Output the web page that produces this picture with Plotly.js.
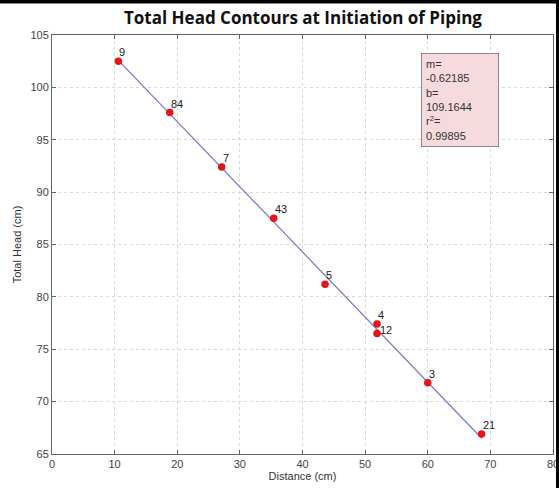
<!DOCTYPE html>
<html><head><meta charset="utf-8">
<script src="https://cdn.plot.ly/plotly-3.0.1.min.js"></script>
<style>html,body{margin:0;padding:0;background:#fff;}#chart{width:559px;height:488px;}</style>
</head><body><div id="chart"></div>
<script>
// Measured points (Distance cm, Total Head cm) and their labels
const distance = [10.6, 18.8, 27.1, 35.4, 43.6, 51.9, 51.9, 60.0, 68.6];
const totalHead = [102.5, 97.6, 92.4, 87.5, 81.2, 77.4, 76.5, 71.8, 66.9];
const pointLabels = ['9', '84', '7', '43', '5', '4', '12', '3', '21'];
// Linear fit parameters shown in the box
const slope = -0.62185;
const intercept = 109.1644;
const rSquared = 0.99895;
const xTicks = [0, 10, 20, 30, 40, 50, 60, 70, 80];
const yTicks = [65, 70, 75, 80, 85, 90, 95, 100, 105];

const xMin = Math.min(...distance), xMax = Math.max(...distance);
const fitX = [xMin, xMax];
const fitY = fitX.map(x => slope * x + intercept);

const traces = [
  {x: fitX, y: fitY, mode: 'lines', line: {color: '#7878c0', width: 1.2}, hoverinfo: 'skip'},
  {x: distance, y: totalHead, mode: 'markers', marker: {color: '#e8141c', size: 7.5}}
];

const labelAnnotations = distance.map((x, i) => {
  const isLower = i > 0 && distance[i - 1] === x && totalHead[i - 1] > totalHead[i];
  return {
    x: x, y: totalHead[i], xref: 'x', yref: 'y', text: pointLabels[i],
    showarrow: false, xanchor: 'left', yanchor: isLower ? 'middle' : 'bottom',
    xshift: isLower ? 1 : -1, yshift: isLower ? 4 : 1,
    font: {family: 'Arial, Liberation Sans', size: 11, color: '#222'}
  };
});

const axisCommon = {
  showline: true, mirror: 'ticks', linecolor: '#666', linewidth: 1,
  ticks: 'inside', ticklen: 4, tickcolor: '#666',
  showgrid: true, gridcolor: '#d8d8d8', griddash: 'dot', gridwidth: 1,
  zeroline: false, ticklabeloverflow: 'allow',
  tickfont: {family: 'Arial, Liberation Sans', size: 11, color: '#444'}
};

const layout = {
  width: 559, height: 488,
  paper_bgcolor: '#ffffff', plot_bgcolor: '#ffffff',
  showlegend: false,
  margin: {l: 52, r: 6, t: 35, b: 34},
  title: {text: '<b>Total Head Contours at Initiation of Piping</b>',
          font: {family: 'Open Sans, Lato', size: 17, color: '#111'},
          x: 0.542, xanchor: 'center', y: 0.963, yanchor: 'middle'},
  xaxis: Object.assign({}, axisCommon, {range: [0, 80], tickvals: xTicks,
    title: {text: 'Distance (cm)', font: {family: 'Arial, Liberation Sans', size: 11, color: '#333'}, standoff: 2}}),
  yaxis: Object.assign({}, axisCommon, {range: [65, 105], tickvals: yTicks,
    title: {text: 'Total Head (cm)', font: {family: 'Arial, Liberation Sans', size: 11, color: '#333'}, standoff: 6}}),
  annotations: labelAnnotations.concat([{
    xref: 'paper', yref: 'paper', x: 0.736, y: 0.958, xanchor: 'left', yanchor: 'top',
    text: 'm=<br>' + slope.toFixed(5) + '<br>b=<br>' + intercept.toFixed(4) + '<br>r<sup>2</sup>=<br>' + rSquared.toFixed(5),
    align: 'left', showarrow: false, width: 68,
    font: {family: 'Arial, Liberation Sans', size: 11, color: '#333'},
    bgcolor: '#f7dadd', bordercolor: '#8a8a8a', borderwidth: 1, borderpad: 4
  }]),
  shapes: [
    {type: 'rect', xref: 'paper', yref: 'paper', x0: -0.2, x1: 1.1, y0: 1.075, y1: 1.2, fillcolor: '#000', line: {width: 0}, layer: 'above'},
    {type: 'rect', xref: 'paper', yref: 'paper', x0: 1.006, x1: 1.1, y0: -0.2, y1: 1.2, fillcolor: '#000', line: {width: 0}, layer: 'above'}
  ]
};

Plotly.newPlot('chart', traces, layout, {displayModeBar: false, staticPlot: true});
</script></body></html>
